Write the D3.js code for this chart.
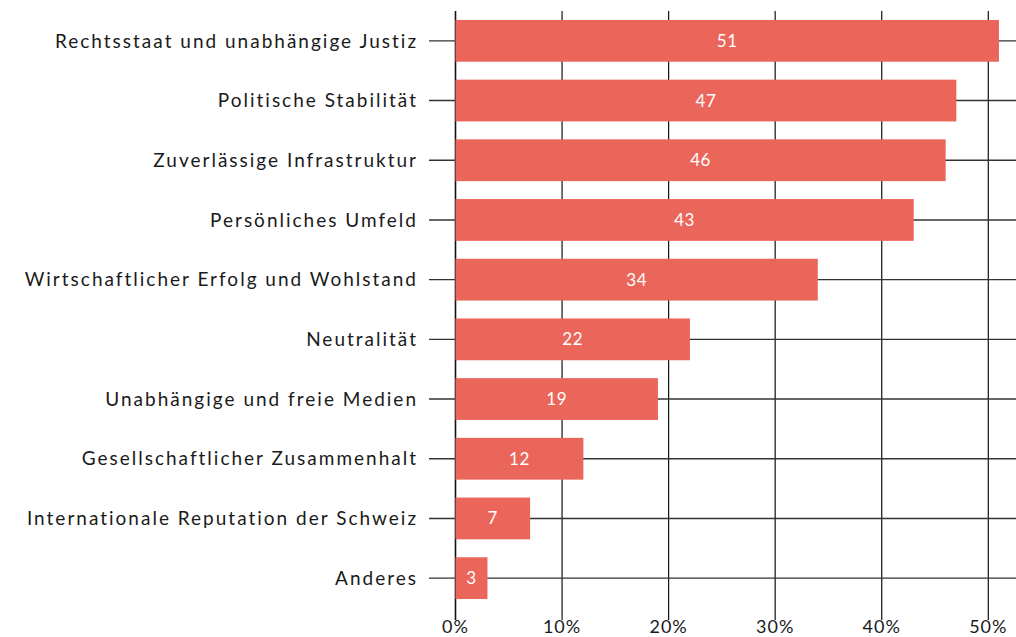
<!DOCTYPE html>
<html>
<head>
<meta charset="utf-8">
<script src="https://cdn.jsdelivr.net/npm/d3@7"></script>
<style>
  body { margin: 0; background: #fff; }
  text { font-family: Lato, sans-serif; }
</style>
</head>
<body>
<div id="chart"></div>
<script>
const categories = [
  "Rechtsstaat und unabhängige Justiz",
  "Politische Stabilität",
  "Zuverlässige Infrastruktur",
  "Persönliches Umfeld",
  "Wirtschaftlicher Erfolg und Wohlstand",
  "Neutralität",
  "Unabhängige und freie Medien",
  "Gesellschaftlicher Zusammenhalt",
  "Internationale Reputation der Schweiz",
  "Anderes"
];
const values = [51, 47, 46, 43, 34, 22, 19, 12, 7, 3];
const xTicks = [0, 10, 20, 30, 40, 50];

const width = 1016, height = 637;
const margin = {top: 11, right: 0, bottom: 29, left: 455.5};

const svg = d3.select("#chart")
  .append("svg")
  .attr("width", width)
  .attr("height", height);

const x = d3.scaleLinear()
  .domain([0, 52.6])
  .range([margin.left, width]);

const y = d3.scaleBand()
  .domain(categories)
  .range([margin.top, height - margin.bottom])
  .paddingInner(0.3)
  .paddingOuter(0.15);

// vertical grid lines
svg.append("g")
  .selectAll("line")
  .data(xTicks)
  .enter()
  .append("line")
  .attr("x1", d => x(d))
  .attr("x2", d => x(d))
  .attr("y1", margin.top)
  .attr("y2", 620)
  .attr("stroke", "#111")
  .attr("stroke-width", d => d === 0 ? 1.6 : 1.2);

// horizontal lines through each row (with left tick)
svg.append("g")
  .selectAll("line")
  .data(categories)
  .enter()
  .append("line")
  .attr("x1", 429)
  .attr("x2", width)
  .attr("y1", d => y(d) + y.bandwidth() / 2)
  .attr("y2", d => y(d) + y.bandwidth() / 2)
  .attr("stroke", "#333")
  .attr("stroke-width", 1.4);

// bars
svg.append("g")
  .selectAll("rect")
  .data(values)
  .enter()
  .append("rect")
  .attr("x", x(0))
  .attr("y", (d, i) => y(categories[i]))
  .attr("width", d => x(d) - x(0))
  .attr("height", y.bandwidth())
  .attr("fill", "#EA665A");

// value labels
svg.append("g")
  .selectAll("text")
  .data(values)
  .enter()
  .append("text")
  .attr("x", d => (x(0) + x(d)) / 2)
  .attr("y", (d, i) => y(categories[i]) + y.bandwidth() / 2)
  .attr("dy", "0.35em")
  .attr("text-anchor", "middle")
  .attr("fill", "#fff")
  .style("font-size", "17px")
  .style("letter-spacing", "0.5px")
  .text(d => d);

// category labels
svg.append("g")
  .selectAll("text")
  .data(categories)
  .enter()
  .append("text")
  .attr("x", 418)
  .attr("y", d => y(d) + y.bandwidth() / 2)
  .attr("dy", "0.35em")
  .attr("text-anchor", "end")
  .attr("fill", "#1a1a1a")
  .style("font-size", "19px")
  .style("letter-spacing", "2px")
  .text(d => d);

// x tick labels
svg.append("g")
  .selectAll("text")
  .data(xTicks)
  .enter()
  .append("text")
  .attr("x", d => x(d))
  .attr("y", 627)
  .attr("dy", "0.35em")
  .attr("text-anchor", "middle")
  .attr("fill", "#1a1a1a")
  .style("font-size", "18px")
  .style("letter-spacing", "1px")
  .text(d => d + "%");
</script>
</body>
</html>
